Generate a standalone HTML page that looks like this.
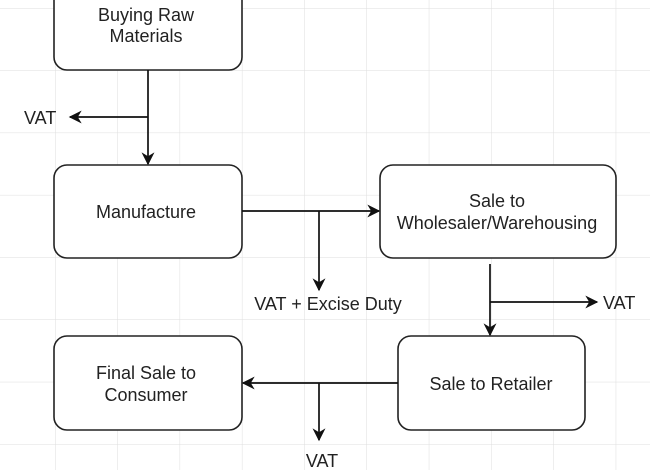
<!DOCTYPE html>
<html><head><style>
body{margin:0;background:#fff}
svg text{font-family:"Liberation Sans",Arial,sans-serif;font-size:18px;fill:#222}
</style></head><body>
<svg width="650" height="470" viewBox="0 0 650 470" xmlns="http://www.w3.org/2000/svg">
<defs>
<pattern id="g" x="55" y="8" width="62.3" height="62.3" patternUnits="userSpaceOnUse">
<path d="M0 0H62.3M0 0V62.3" stroke="#dedede" stroke-width="1" fill="none"/>
</pattern>
<marker id="a" viewBox="0 0 10 10" refX="9" refY="5" markerWidth="13" markerHeight="13" markerUnits="userSpaceOnUse" orient="auto">
<path d="M0 0L10 5L0 10L3 5z" fill="#111"/>
</marker>
</defs>
<rect width="650" height="470" fill="url(#g)"/>
<g fill="#fff" stroke="#222" stroke-width="1.6">
<rect x="54" y="-20" width="188" height="90" rx="13"/>
<rect x="54" y="165" width="188" height="93" rx="13"/>
<rect x="380" y="165" width="236" height="93" rx="13"/>
<rect x="398" y="336" width="187" height="94" rx="13"/>
<rect x="54" y="336" width="188" height="94" rx="13"/>
</g>
<g stroke="#111" stroke-width="1.7" fill="none">
<path d="M148 70V164" marker-end="url(#a)"/>
<path d="M148 117H70" marker-end="url(#a)"/>
<path d="M242 211H379" marker-end="url(#a)"/>
<path d="M319 211V290" marker-end="url(#a)"/>
<path d="M490 264V335" marker-end="url(#a)"/>
<path d="M490 302H597" marker-end="url(#a)"/>
<path d="M398 383H243" marker-end="url(#a)"/>
<path d="M319 383V440" marker-end="url(#a)"/>
</g>
<g text-anchor="middle">
<text x="146" y="21">Buying Raw</text>
<text x="146" y="42">Materials</text>
<text x="146" y="218">Manufacture</text>
<text x="497" y="207">Sale to</text>
<text x="497" y="229">Wholesaler/Warehousing</text>
<text x="491" y="390">Sale to Retailer</text>
<text x="146" y="379">Final Sale to</text>
<text x="146" y="401">Consumer</text>
<text x="328" y="310">VAT + Excise Duty</text>
<text x="322" y="467">VAT</text>
</g>
<text x="24" y="124">VAT</text>
<text x="603" y="309">VAT</text>
</svg>
</body></html>
